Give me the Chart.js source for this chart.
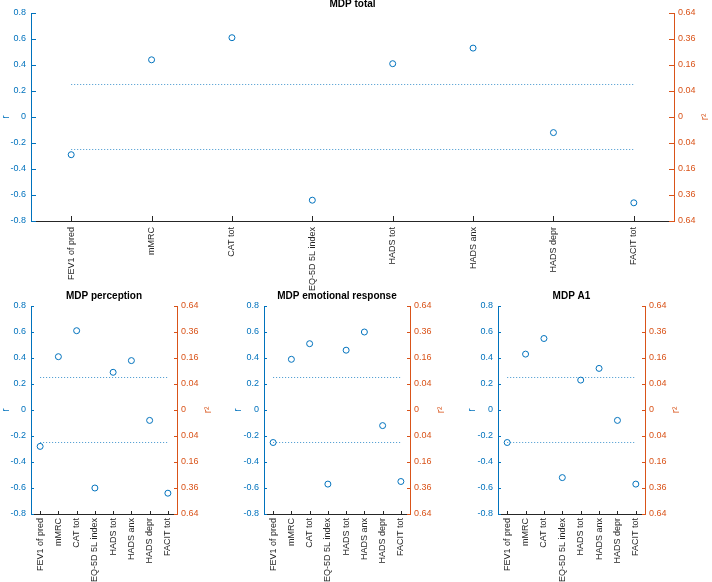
<!DOCTYPE html>
<html><head><meta charset="utf-8">
<script src="https://cdn.jsdelivr.net/npm/chart.js@4.4.1/dist/chart.umd.min.js"></script>
<style>
html,body{margin:0;padding:0;background:#fff;}
#wrap{position:relative;width:712px;height:582px;overflow:hidden;background:#fff;}
canvas{position:absolute;}
</style></head><body><div id="wrap">
<canvas id="c0" width="712" height="300" style="left:0;top:-2px"></canvas>
<canvas id="c1" width="232" height="292" style="left:0;top:290px"></canvas>
<canvas id="c2" width="234" height="292" style="left:232px;top:290px"></canvas>
<canvas id="c3" width="246" height="292" style="left:466px;top:290px"></canvas>
</div>
<script>
// ---- data ----
const categories = ['FEV1 of pred','mMRC','CAT tot','EQ-5D 5L index','HADS tot','HADS anx','HADS depr','FACIT tot'];
const mdpTotal = [-0.29, 0.44, 0.61, -0.64, 0.41, 0.53, -0.12, -0.66];
const mdpPerception = [-0.28, 0.41, 0.61, -0.60, 0.29, 0.38, -0.08, -0.64];
const mdpEmotionalResponse = [-0.25, 0.39, 0.51, -0.57, 0.46, 0.60, -0.12, -0.55];
const mdpA1 = [-0.25, 0.43, 0.55, -0.52, 0.23, 0.32, -0.08, -0.57];
const panelTitles = ['MDP total', 'MDP perception', 'MDP emotional response', 'MDP A1'];
const thresholds = [0.25, -0.25];
const rMin = -0.8, rMax = 0.8, rStep = 0.2;
const leftAxisTitle = 'r';
const rightAxisTitle = 'r\u00B2';

// ---- style ----
const BLUE = '#0072BD', ORANGE = '#D95319', DARK = '#262626';
const FAMILY = '"Liberation Sans", Arial, Helvetica, sans-serif';

const matlabAxes = {
  id: 'matlabAxes',
  afterDraw(chart, args, opts) {
    const {ctx, chartArea: a, scales} = chart;
    const len = opts.tickLen;
    ctx.save();
    ctx.lineWidth = 1;
    const line = (x1, y1, x2, y2, c) => { ctx.strokeStyle = c; ctx.beginPath(); ctx.moveTo(x1, y1); ctx.lineTo(x2, y2); ctx.stroke(); };
    scales.y.ticks.forEach(t => {
      const p = Math.round(scales.y.getPixelForValue(t.value)) + 0.5;
      line(a.left, p, a.left + len, p, BLUE);
    });
    scales.y2.ticks.forEach(t => {
      const p = Math.round(scales.y2.getPixelForValue(t.value)) + 0.5;
      line(a.right, p, a.right - len, p, ORANGE);
    });
    categories.forEach((c, i) => {
      const p = Math.round(scales.x.getPixelForValue(i)) + 0.5;
      line(p, a.bottom, p, a.bottom - len, DARK);
    });
    ctx.fillStyle = ORANGE;
    ctx.font = '10px ' + FAMILY;
    ctx.textAlign = 'center';
    ctx.textBaseline = 'middle';
    ctx.translate(a.right + 31, (a.top + a.bottom) / 2);
    ctx.rotate(-Math.PI / 2);
    ctx.fillText(rightAxisTitle, 0, 0);
    ctx.restore();
  }
};

function fmtR(v) { return Math.abs(v) < 1e-9 ? '0' : String(Math.round(v * 10) / 10); }
function fmtR2(v) { return Math.abs(v) < 1e-9 ? '0' : (v * v).toFixed(2); }

function makePanel(cfg) {
  const la = cfg.chartLeft - cfg.canvasLeft;
  const lb = cfg.chartRight - cfg.canvasLeft;
  const padRight = cfg.canvasWidth - (la + lb);
  const datasets = thresholds.map(t => ({
    data: [{x: categories[0], y: t}, {x: categories[categories.length - 1], y: t}],
    borderColor: 'rgba(0,114,189,0.75)', borderWidth: 1, borderDash: [1, 2],
    pointRadius: 0, fill: false, showLine: true, yAxisID: 'y'
  }));
  datasets.push({
    data: cfg.values, yAxisID: 'y', showLine: false,
    pointStyle: 'circle', pointRadius: 3, pointBorderWidth: 1,
    pointBorderColor: BLUE, pointBackgroundColor: 'rgba(0,0,0,0)',
    borderColor: BLUE, backgroundColor: 'rgba(0,0,0,0)'
  });
  return new Chart(document.getElementById(cfg.id), {
    type: 'line',
    data: { labels: categories, datasets },
    plugins: [matlabAxes],
    options: {
      responsive: false, animation: false,
      layout: { padding: { left: 0, right: padRight, top: 0, bottom: 0 } },
      plugins: {
        legend: { display: false }, tooltip: { enabled: false },
        title: { display: true, text: cfg.title, color: '#000',
          font: { family: FAMILY, size: 10, weight: 'bold' },
          padding: { top: 0, bottom: cfg.chartTop - 12 } },
        matlabAxes: { tickLen: cfg.tickLen }
      },
      scales: {
        x: {
          type: 'category', offset: true,
          grid: { display: false, drawTicks: false },
          border: { display: true, color: DARK, width: 1 },
          ticks: { autoSkip: false, minRotation: 90, maxRotation: 90, padding: cfg.xPad,
            color: DARK, font: { family: FAMILY, size: 9 } },
          afterFit: s => { s.height = cfg.canvasHeight - cfg.chartBottom; }
        },
        y: {
          position: 'left', min: rMin, max: rMax,
          grid: { display: false, drawTicks: false },
          border: { display: true, color: BLUE, width: 1 },
          ticks: { stepSize: rStep, padding: 5, color: BLUE, font: { family: FAMILY, size: 9 }, callback: fmtR },
          title: { display: true, text: leftAxisTitle, color: BLUE, font: { family: FAMILY, size: 10 }, padding: { top: 0, bottom: 0 } },
          afterFit: s => { s.width = la; }
        },
        y2: {
          position: 'right', min: rMin, max: rMax,
          grid: { display: false, drawTicks: false },
          border: { display: true, color: ORANGE, width: 1 },
          ticks: { stepSize: rStep, padding: 4, color: ORANGE, font: { family: FAMILY, size: 9 }, callback: fmtR2 },
          afterFit: s => { s.width = la; }
        }
      }
    }
  });
}

makePanel({ id: 'c0', title: panelTitles[0], values: mdpTotal, canvasLeft: 0, canvasWidth: 712, canvasHeight: 300,
  chartLeft: 31, chartRight: 674, chartTop: 15, chartBottom: 223, tickLen: 5, xPad: 6 });
makePanel({ id: 'c1', title: panelTitles[1], values: mdpPerception, canvasLeft: 0, canvasWidth: 232, canvasHeight: 292,
  chartLeft: 31, chartRight: 177, chartTop: 16, chartBottom: 224, tickLen: 3, xPad: 4 });
makePanel({ id: 'c2', title: panelTitles[2], values: mdpEmotionalResponse, canvasLeft: 232, canvasWidth: 234, canvasHeight: 292,
  chartLeft: 264, chartRight: 410, chartTop: 16, chartBottom: 224, tickLen: 3, xPad: 4 });
makePanel({ id: 'c3', title: panelTitles[3], values: mdpA1, canvasLeft: 466, canvasWidth: 246, canvasHeight: 292,
  chartLeft: 498, chartRight: 645, chartTop: 16, chartBottom: 224, tickLen: 3, xPad: 4 });
</script>
</body></html>
